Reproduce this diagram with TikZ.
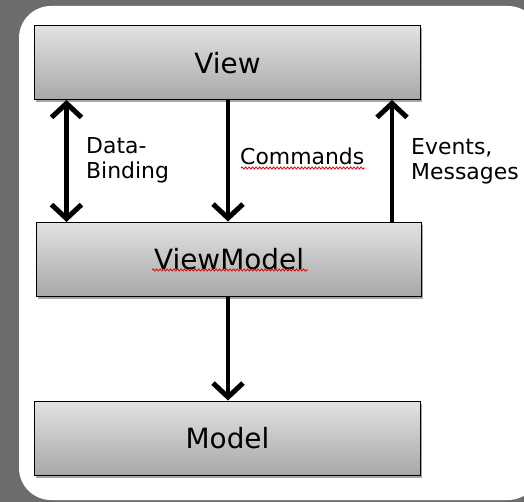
\documentclass[tikz,border=0pt]{standalone}
\usepackage{fontspec}
\setmainfont{DejaVu Sans}
\usetikzlibrary{arrows.meta,shadows,decorations.pathmorphing}
\definecolor{bg}{RGB}{107,108,107}
\definecolor{boxtop}{RGB}{226,226,226}
\definecolor{boxbot}{RGB}{168,168,168}
\tikzset{
  layer/.style={draw=black, line width=1bp, top color=boxtop, bottom color=boxbot,
    minimum width=385bp, minimum height=74bp, inner sep=0pt,
    font=\fontsize{28}{30}\selectfont,
    drop shadow={shadow xshift=1.5bp, shadow yshift=-2.5bp, opacity=0.35, fill=black}},
  flow/.style={line width=4.5bp, black,
    -{Straight Barb[length=14bp, width=30bp, line width=5bp]}},
  both/.style={line width=4.5bp, black,
    {Straight Barb[length=14bp, width=30bp, line width=5bp]}-{Straight Barb[length=14bp, width=30bp, line width=5bp]}},
  lbl/.style={font=\fontsize{22}{25}\selectfont, align=left, inner sep=0pt, anchor=west},
  squiggle/.style={red!85!black, line width=0.8bp, decorate,
    decoration={snake, amplitude=1.1bp, segment length=3.5bp}}
}
\begin{document}
\begin{tikzpicture}[x=1bp,y=-1bp]
\useasboundingbox (0,0) rectangle (524,502);
\fill[bg] (0,0) rectangle (524,502);
\fill[white, rounded corners=32bp] (19,6) rectangle (540,500);
\node[layer] (view) at (227.5,63) {View};
\node[layer] (vm) at (229,259) {ViewModel};
\node[layer] (model) at (227.5,438) {Model};
\coordinate (dbt) at (66.5,100);
\coordinate (dbb) at (66.5,222);
\coordinate (evt) at (392,100);
\coordinate (evb) at (392,222);
\draw[both] (dbt) -- (dbb);
\draw[flow] (view.south -| 228,0) -- (vm.north -| 228,0);
\draw[flow] (evb) -- (evt);
\draw[flow] (vm.south -| 228,0) -- (model.north -| 228,0);
\node[lbl] (dblabel) at (86,160) {Data-\\Binding};
\node[lbl] (cmdlabel) at (240,156) {Commands};
\node[lbl] (evlabel) at (411,161) {Events,\\Messages};
\coordinate (cs1) at (241,168);
\coordinate (cs2) at (365,168);
\draw[squiggle] (cs1) -- (cs2);
\coordinate (vs1) at (152,270);
\coordinate (vs2) at (308,270);
\draw[squiggle] (vs1) -- (vs2);
\end{tikzpicture}
\end{document}
